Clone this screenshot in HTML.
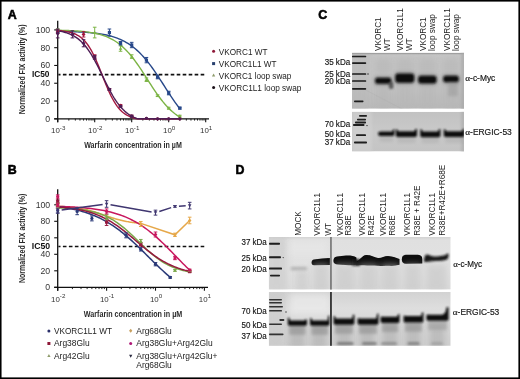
<!DOCTYPE html><html><head><meta charset="utf-8"><style>html,body{margin:0;padding:0;background:#fff;}svg{display:block;will-change:transform;filter:blur(0.3px);}text{font-family:"Liberation Sans", sans-serif;}</style></head><body>
<svg width="520" height="379" viewBox="0 0 520 379">
<defs>
<filter id="b1" x="-30%" y="-80%" width="160%" height="260%"><feGaussianBlur stdDeviation="0.9"/></filter>
<filter id="b2" x="-30%" y="-80%" width="160%" height="260%"><feGaussianBlur stdDeviation="1.6"/></filter>
<filter id="b3" x="-30%" y="-30%" width="160%" height="160%"><feGaussianBlur stdDeviation="3"/></filter>
<filter id="b05"><feGaussianBlur stdDeviation="0.5"/></filter>
<filter id="b07" x="-30%" y="-80%" width="160%" height="260%"><feGaussianBlur stdDeviation="0.7"/></filter>
</defs>
<rect x="0" y="0" width="520" height="379" fill="#fff"/>
<text x="7.80" y="18.60" font-size="12.40" text-anchor="start" font-weight="bold" fill="#000" stroke="#000" stroke-width="0.55">A</text>
<text x="7.80" y="174.00" font-size="12.40" text-anchor="start" font-weight="bold" fill="#000" stroke="#000" stroke-width="0.55">B</text>
<text x="318.20" y="19.30" font-size="12.40" text-anchor="start" font-weight="bold" fill="#000" stroke="#000" stroke-width="0.55">C</text>
<text x="235.50" y="173.90" font-size="12.40" text-anchor="start" font-weight="bold" fill="#000" stroke="#000" stroke-width="0.55">D</text>
<path d="M57.7,20.8 V122.2" stroke="#111" stroke-width="1.3"/>
<path d="M54.2,118.8 H209.0" stroke="#111" stroke-width="1.3"/>
<path d="M54.2,118.80 H57.7" stroke="#111" stroke-width="1.1"/>
<text x="50.20" y="121.80" font-size="8.70" text-anchor="end" font-weight="normal" fill="#333" >0</text>
<path d="M54.2,101.02 H57.7" stroke="#111" stroke-width="1.1"/>
<text x="50.20" y="104.02" font-size="8.70" text-anchor="end" font-weight="normal" fill="#333" >20</text>
<path d="M54.2,83.24 H57.7" stroke="#111" stroke-width="1.1"/>
<text x="50.20" y="86.24" font-size="8.70" text-anchor="end" font-weight="normal" fill="#333" >40</text>
<path d="M54.2,65.46 H57.7" stroke="#111" stroke-width="1.1"/>
<text x="50.20" y="68.46" font-size="8.70" text-anchor="end" font-weight="normal" fill="#333" >60</text>
<path d="M54.2,47.68 H57.7" stroke="#111" stroke-width="1.1"/>
<text x="50.20" y="50.68" font-size="8.70" text-anchor="end" font-weight="normal" fill="#333" >80</text>
<path d="M54.2,29.90 H57.7" stroke="#111" stroke-width="1.1"/>
<text x="50.20" y="32.90" font-size="8.70" text-anchor="end" font-weight="normal" fill="#333" >100</text>
<path d="M57.70,118.8 V122.2" stroke="#111" stroke-width="1.1"/>
<path d="M68.84,118.8 V120.6" stroke="#111" stroke-width="0.9"/>
<path d="M75.35,118.8 V120.6" stroke="#111" stroke-width="0.9"/>
<path d="M79.98,118.8 V120.6" stroke="#111" stroke-width="0.9"/>
<path d="M83.56,118.8 V120.6" stroke="#111" stroke-width="0.9"/>
<path d="M86.49,118.8 V120.6" stroke="#111" stroke-width="0.9"/>
<path d="M88.97,118.8 V120.6" stroke="#111" stroke-width="0.9"/>
<path d="M91.11,118.8 V120.6" stroke="#111" stroke-width="0.9"/>
<path d="M93.01,118.8 V120.6" stroke="#111" stroke-width="0.9"/>
<text x="58.20" y="133.1" font-size="7.9" fill="#333" text-anchor="middle">10<tspan dy="-3.2" font-size="6.2">-3</tspan></text>
<path d="M94.70,118.8 V122.2" stroke="#111" stroke-width="1.1"/>
<path d="M105.84,118.8 V120.6" stroke="#111" stroke-width="0.9"/>
<path d="M112.35,118.8 V120.6" stroke="#111" stroke-width="0.9"/>
<path d="M116.98,118.8 V120.6" stroke="#111" stroke-width="0.9"/>
<path d="M120.56,118.8 V120.6" stroke="#111" stroke-width="0.9"/>
<path d="M123.49,118.8 V120.6" stroke="#111" stroke-width="0.9"/>
<path d="M125.97,118.8 V120.6" stroke="#111" stroke-width="0.9"/>
<path d="M128.11,118.8 V120.6" stroke="#111" stroke-width="0.9"/>
<path d="M130.01,118.8 V120.6" stroke="#111" stroke-width="0.9"/>
<text x="95.20" y="133.1" font-size="7.9" fill="#333" text-anchor="middle">10<tspan dy="-3.2" font-size="6.2">-2</tspan></text>
<path d="M131.70,118.8 V122.2" stroke="#111" stroke-width="1.1"/>
<path d="M142.84,118.8 V120.6" stroke="#111" stroke-width="0.9"/>
<path d="M149.35,118.8 V120.6" stroke="#111" stroke-width="0.9"/>
<path d="M153.98,118.8 V120.6" stroke="#111" stroke-width="0.9"/>
<path d="M157.56,118.8 V120.6" stroke="#111" stroke-width="0.9"/>
<path d="M160.49,118.8 V120.6" stroke="#111" stroke-width="0.9"/>
<path d="M162.97,118.8 V120.6" stroke="#111" stroke-width="0.9"/>
<path d="M165.11,118.8 V120.6" stroke="#111" stroke-width="0.9"/>
<path d="M167.01,118.8 V120.6" stroke="#111" stroke-width="0.9"/>
<text x="132.20" y="133.1" font-size="7.9" fill="#333" text-anchor="middle">10<tspan dy="-3.2" font-size="6.2">-1</tspan></text>
<path d="M168.70,118.8 V122.2" stroke="#111" stroke-width="1.1"/>
<path d="M179.84,118.8 V120.6" stroke="#111" stroke-width="0.9"/>
<path d="M186.35,118.8 V120.6" stroke="#111" stroke-width="0.9"/>
<path d="M190.98,118.8 V120.6" stroke="#111" stroke-width="0.9"/>
<path d="M194.56,118.8 V120.6" stroke="#111" stroke-width="0.9"/>
<path d="M197.49,118.8 V120.6" stroke="#111" stroke-width="0.9"/>
<path d="M199.97,118.8 V120.6" stroke="#111" stroke-width="0.9"/>
<path d="M202.11,118.8 V120.6" stroke="#111" stroke-width="0.9"/>
<path d="M204.01,118.8 V120.6" stroke="#111" stroke-width="0.9"/>
<text x="169.20" y="133.1" font-size="7.9" fill="#333" text-anchor="middle">10<tspan dy="-3.2" font-size="6.2">0</tspan></text>
<path d="M205.70,118.8 V122.2" stroke="#111" stroke-width="1.1"/>
<text x="206.20" y="133.1" font-size="7.9" fill="#333" text-anchor="middle">10<tspan dy="-3.2" font-size="6.2">1</tspan></text>
<path d="M58.4,74.6 H204.4" stroke="#111" stroke-width="1.6" stroke-dasharray="3.6,2.39" stroke-dashoffset="1.5"/>
<text x="31.90" y="76.80" font-size="8.30" text-anchor="start" font-weight="bold" fill="#111" textLength="17.6" lengthAdjust="spacingAndGlyphs" >IC50</text>
<text x="84.20" y="148.30" font-size="9.50" text-anchor="start" font-weight="bold" fill="#2a2a2a" textLength="97.6" lengthAdjust="spacingAndGlyphs" >Warfarin concentration in &#181;M</text>
<text transform="translate(25.40,114.20) rotate(-90)" x="0" y="0" font-size="9.40" font-weight="bold" fill="#2a2a2a" text-anchor="start" textLength="89.8" lengthAdjust="spacingAndGlyphs">Normalized FIX activity (%)</text>
<path d="M57.70,31.32 L59.23,31.34 L60.75,31.37 L62.28,31.39 L63.81,31.42 L65.33,31.46 L66.86,31.49 L68.39,31.53 L69.91,31.58 L71.44,31.62 L72.97,31.67 L74.49,31.73 L76.02,31.79 L77.55,31.85 L79.07,31.93 L80.60,32.00 L82.13,32.09 L83.65,32.18 L85.18,32.28 L86.71,32.39 L88.23,32.51 L89.76,32.64 L91.29,32.78 L92.81,32.93 L94.34,33.10 L95.87,33.28 L97.39,33.48 L98.92,33.69 L100.45,33.92 L101.98,34.17 L103.50,34.44 L105.03,34.74 L106.56,35.06 L108.08,35.41 L109.61,35.78 L111.14,36.19 L112.66,36.63 L114.19,37.11 L115.72,37.62 L117.24,38.18 L118.77,38.78 L120.30,39.42 L121.82,40.11 L123.35,40.86 L124.88,41.66 L126.40,42.52 L127.93,43.43 L129.46,44.42 L130.98,45.47 L132.51,46.58 L134.04,47.77 L135.56,49.04 L137.09,50.38 L138.62,51.79 L140.14,53.29 L141.67,54.86 L143.20,56.52 L144.72,58.25 L146.25,60.06 L147.78,61.94 L149.30,63.90 L150.83,65.93 L152.36,68.02 L153.88,70.18 L155.41,72.38 L156.94,74.64 L158.46,76.94 L159.99,79.27 L161.52,81.63 L163.04,84.00 L164.57,86.38 L166.10,88.76 L167.62,91.13 L169.15,93.49 L170.68,95.81 L172.20,98.10 L173.73,100.35 L175.26,102.55 L176.78,104.70 L178.31,106.78 L179.84,108.79" stroke="#27488a" stroke-width="1.4" fill="none"/>
<path d="M57.70,30.22 L59.23,30.25 L60.75,30.29 L62.28,30.33 L63.81,30.37 L65.33,30.42 L66.86,30.47 L68.39,30.53 L69.91,30.59 L71.44,30.66 L72.97,30.74 L74.49,30.83 L76.02,30.92 L77.55,31.02 L79.07,31.14 L80.60,31.26 L82.13,31.40 L83.65,31.55 L85.18,31.72 L86.71,31.90 L88.23,32.10 L89.76,32.33 L91.29,32.57 L92.81,32.83 L94.34,33.13 L95.87,33.45 L97.39,33.80 L98.92,34.18 L100.45,34.60 L101.98,35.06 L103.50,35.56 L105.03,36.10 L106.56,36.69 L108.08,37.34 L109.61,38.04 L111.14,38.80 L112.66,39.62 L114.19,40.52 L115.72,41.48 L117.24,42.51 L118.77,43.63 L120.30,44.83 L121.82,46.11 L123.35,47.47 L124.88,48.93 L126.40,50.47 L127.93,52.11 L129.46,53.83 L130.98,55.65 L132.51,57.55 L134.04,59.53 L135.56,61.59 L137.09,63.72 L138.62,65.92 L140.14,68.17 L141.67,70.48 L143.20,72.82 L144.72,75.19 L146.25,77.58 L147.78,79.97 L149.30,82.36 L150.83,84.73 L152.36,87.08 L153.88,89.38 L155.41,91.64 L156.94,93.84 L158.46,95.98 L159.99,98.04 L161.52,100.03 L163.04,101.93 L164.57,103.75 L166.10,105.48 L167.62,107.12 L169.15,108.67 L170.68,110.13 L172.20,111.50 L173.73,112.79 L175.26,113.99 L176.78,115.11 L178.31,116.15 L179.84,117.11" stroke="#7cb445" stroke-width="1.4" fill="none"/>
<path d="M57.70,30.51 L59.23,30.63 L60.75,30.76 L62.28,30.92 L63.81,31.11 L65.33,31.33 L66.86,31.59 L68.39,31.90 L69.91,32.26 L71.44,32.69 L72.97,33.19 L74.49,33.77 L76.02,34.46 L77.55,35.26 L79.07,36.19 L80.60,37.27 L82.13,38.51 L83.65,39.94 L85.18,41.57 L86.71,43.42 L88.23,45.51 L89.76,47.85 L91.29,50.44 L92.81,53.28 L94.34,56.37 L95.87,59.68 L97.39,63.20 L98.92,66.88 L100.45,70.67 L101.98,74.53 L103.50,78.41 L105.03,82.23 L106.56,85.96 L108.08,89.54 L109.61,92.93 L111.14,96.10 L112.66,99.04 L114.19,101.72 L115.72,104.15 L117.24,106.32 L118.77,108.26 L120.30,109.97 L121.82,111.47 L123.35,112.78 L124.88,113.91 L126.40,114.90 L127.93,115.74 L129.46,116.47 L130.98,117.09 L132.51,117.62 L134.04,118.07 L135.56,118.46 L137.09,118.78 L138.62,118.80 L140.14,118.80 L141.67,118.80 L143.20,118.80 L144.72,118.80 L146.25,118.80 L147.78,118.80 L149.30,118.80 L150.83,118.80 L152.36,118.80 L153.88,118.80 L155.41,118.80 L156.94,118.80 L158.46,118.80 L159.99,118.80 L161.52,118.80 L163.04,118.80 L164.57,118.80 L166.10,118.80 L167.62,118.80 L169.15,118.80 L170.68,118.80 L172.20,118.80 L173.73,118.80 L175.26,118.80 L176.78,118.80 L178.31,118.80 L179.84,118.80" stroke="#a3183f" stroke-width="1.4" fill="none"/>
<path d="M57.70,30.81 L59.23,31.06 L60.75,31.35 L62.28,31.67 L63.81,32.04 L65.33,32.46 L66.86,32.94 L68.39,33.47 L69.91,34.08 L71.44,34.76 L72.97,35.53 L74.49,36.39 L76.02,37.35 L77.55,38.43 L79.07,39.62 L80.60,40.95 L82.13,42.42 L83.65,44.03 L85.18,45.80 L86.71,47.73 L88.23,49.82 L89.76,52.07 L91.29,54.48 L92.81,57.04 L94.34,59.74 L95.87,62.57 L97.39,65.51 L98.92,68.54 L100.45,71.63 L101.98,74.76 L103.50,77.91 L105.03,81.03 L106.56,84.11 L108.08,87.12 L109.61,90.04 L111.14,92.84 L112.66,95.51 L114.19,98.03 L115.72,100.40 L117.24,102.61 L118.77,104.66 L120.30,106.55 L121.82,108.28 L123.35,109.86 L124.88,111.29 L126.40,112.58 L127.93,113.75 L129.46,114.80 L130.98,115.73 L132.51,116.57 L134.04,117.32 L135.56,117.98 L137.09,118.57 L138.62,118.80 L140.14,118.80 L141.67,118.80 L143.20,118.80 L144.72,118.80 L146.25,118.80 L147.78,118.80 L149.30,118.80 L150.83,118.80 L152.36,118.80 L153.88,118.80 L155.41,118.80 L156.94,118.80 L158.46,118.80 L159.99,118.80 L161.52,118.80 L163.04,118.80 L164.57,118.80 L166.10,118.80 L167.62,118.80 L169.15,118.80 L170.68,118.80 L172.20,118.80 L173.73,118.80 L175.26,118.80 L176.78,118.80 L178.31,118.80 L179.84,118.80" stroke="#4e1d55" stroke-width="1.4" fill="none"/>
<path d="M57.70,29.01 V30.79 M55.90,29.01 H59.50 M55.90,30.79 H59.50" stroke="#7cb445" stroke-width="1.0" fill="none"/>
<path d="M57.70,27.98 L59.46,31.18 L55.94,31.18 Z" fill="#7cb445"/>
<path d="M94.70,27.23 V37.90 M92.90,27.23 H96.50 M92.90,37.90 H96.50" stroke="#7cb445" stroke-width="1.0" fill="none"/>
<path d="M94.70,30.65 L96.46,33.85 L92.94,33.85 Z" fill="#7cb445"/>
<path d="M120.56,45.90 V51.24 M118.76,45.90 H122.36 M118.76,51.24 H122.36" stroke="#7cb445" stroke-width="1.0" fill="none"/>
<path d="M120.56,46.65 L122.32,49.85 L118.80,49.85 Z" fill="#7cb445"/>
<path d="M131.70,54.79 V58.35 M129.90,54.79 H133.50 M129.90,58.35 H133.50" stroke="#7cb445" stroke-width="1.0" fill="none"/>
<path d="M131.70,54.65 L133.46,57.85 L129.94,57.85 Z" fill="#7cb445"/>
<path d="M146.42,77.91 V81.46 M144.62,77.91 H148.22 M144.62,81.46 H148.22" stroke="#7cb445" stroke-width="1.0" fill="none"/>
<path d="M146.42,77.76 L148.18,80.96 L144.66,80.96 Z" fill="#7cb445"/>
<path d="M157.56,94.80 V96.57 M155.76,94.80 H159.36 M155.76,96.57 H159.36" stroke="#7cb445" stroke-width="1.0" fill="none"/>
<path d="M157.56,93.77 L159.32,96.97 L155.80,96.97 Z" fill="#7cb445"/>
<path d="M168.70,107.24 V109.02 M166.90,107.24 H170.50 M166.90,109.02 H170.50" stroke="#7cb445" stroke-width="1.0" fill="none"/>
<path d="M168.70,106.21 L170.46,109.41 L166.94,109.41 Z" fill="#7cb445"/>
<path d="M179.84,115.24 V117.02 M178.04,115.24 H181.64 M178.04,117.02 H181.64" stroke="#7cb445" stroke-width="1.0" fill="none"/>
<path d="M179.84,114.21 L181.60,117.41 L178.08,117.41 Z" fill="#7cb445"/>
<path d="M57.70,30.79 V32.57 M55.90,30.79 H59.50 M55.90,32.57 H59.50" stroke="#27488a" stroke-width="1.0" fill="none"/>
<rect x="56.10" y="30.08" width="3.20" height="3.20" fill="#27488a"/>
<path d="M109.42,29.01 V36.12 M107.62,29.01 H111.22 M107.62,36.12 H111.22" stroke="#27488a" stroke-width="1.0" fill="none"/>
<rect x="107.82" y="30.97" width="3.20" height="3.20" fill="#27488a"/>
<path d="M120.56,41.46 V45.01 M118.76,41.46 H122.36 M118.76,45.01 H122.36" stroke="#27488a" stroke-width="1.0" fill="none"/>
<rect x="118.96" y="41.63" width="3.20" height="3.20" fill="#27488a"/>
<path d="M131.70,42.35 V47.68 M129.90,42.35 H133.50 M129.90,47.68 H133.50" stroke="#27488a" stroke-width="1.0" fill="none"/>
<rect x="130.10" y="43.41" width="3.20" height="3.20" fill="#27488a"/>
<path d="M146.42,57.46 V62.79 M144.62,57.46 H148.22 M144.62,62.79 H148.22" stroke="#27488a" stroke-width="1.0" fill="none"/>
<rect x="144.82" y="58.53" width="3.20" height="3.20" fill="#27488a"/>
<path d="M157.56,75.24 V78.80 M155.76,75.24 H159.36 M155.76,78.80 H159.36" stroke="#27488a" stroke-width="1.0" fill="none"/>
<rect x="155.96" y="75.42" width="3.20" height="3.20" fill="#27488a"/>
<path d="M168.70,91.24 V94.80 M166.90,91.24 H170.50 M166.90,94.80 H170.50" stroke="#27488a" stroke-width="1.0" fill="none"/>
<rect x="167.10" y="91.42" width="3.20" height="3.20" fill="#27488a"/>
<path d="M179.84,107.24 V109.02 M178.04,107.24 H181.64 M178.04,109.02 H181.64" stroke="#27488a" stroke-width="1.0" fill="none"/>
<rect x="178.24" y="106.53" width="3.20" height="3.20" fill="#27488a"/>
<path d="M57.70,29.90 V33.46 M55.90,29.90 H59.50 M55.90,33.46 H59.50" stroke="#a3183f" stroke-width="1.0" fill="none"/>
<circle cx="57.70" cy="31.68" r="1.60" fill="#a3183f"/>
<path d="M83.56,31.68 V37.01 M81.76,31.68 H85.36 M81.76,37.01 H85.36" stroke="#a3183f" stroke-width="1.0" fill="none"/>
<circle cx="83.56" cy="34.34" r="1.60" fill="#a3183f"/>
<path d="M94.70,54.79 V58.35 M92.90,54.79 H96.50 M92.90,58.35 H96.50" stroke="#a3183f" stroke-width="1.0" fill="none"/>
<circle cx="94.70" cy="56.57" r="1.60" fill="#a3183f"/>
<path d="M109.42,88.57 V90.35 M107.62,88.57 H111.22 M107.62,90.35 H111.22" stroke="#a3183f" stroke-width="1.0" fill="none"/>
<circle cx="109.42" cy="89.46" r="1.60" fill="#a3183f"/>
<path d="M120.56,104.58 V106.35 M118.76,104.58 H122.36 M118.76,106.35 H122.36" stroke="#a3183f" stroke-width="1.0" fill="none"/>
<circle cx="120.56" cy="105.47" r="1.60" fill="#a3183f"/>
<path d="M131.70,115.24 V117.02 M129.90,115.24 H133.50 M129.90,117.02 H133.50" stroke="#a3183f" stroke-width="1.0" fill="none"/>
<circle cx="131.70" cy="116.13" r="1.60" fill="#a3183f"/>
<circle cx="146.42" cy="118.36" r="1.60" fill="#a3183f"/>
<circle cx="157.56" cy="118.80" r="1.60" fill="#a3183f"/>
<circle cx="168.70" cy="118.80" r="1.60" fill="#a3183f"/>
<circle cx="179.84" cy="118.80" r="1.60" fill="#a3183f"/>
<path d="M57.70,29.01 V37.90 M55.90,29.01 H59.50 M55.90,37.90 H59.50" stroke="#4e1d55" stroke-width="1.0" fill="none"/>
<circle cx="57.70" cy="33.46" r="1.60" fill="#4e1d55"/>
<path d="M72.42,30.79 V37.90 M70.62,30.79 H74.22 M70.62,37.90 H74.22" stroke="#4e1d55" stroke-width="1.0" fill="none"/>
<circle cx="72.42" cy="34.34" r="1.60" fill="#4e1d55"/>
<path d="M83.56,39.68 V46.79 M81.76,39.68 H85.36 M81.76,46.79 H85.36" stroke="#4e1d55" stroke-width="1.0" fill="none"/>
<circle cx="83.56" cy="43.23" r="1.60" fill="#4e1d55"/>
<path d="M94.70,55.68 V59.24 M92.90,55.68 H96.50 M92.90,59.24 H96.50" stroke="#4e1d55" stroke-width="1.0" fill="none"/>
<circle cx="94.70" cy="57.46" r="1.60" fill="#4e1d55"/>
<path d="M109.42,88.57 V90.35 M107.62,88.57 H111.22 M107.62,90.35 H111.22" stroke="#4e1d55" stroke-width="1.0" fill="none"/>
<circle cx="109.42" cy="89.46" r="1.60" fill="#4e1d55"/>
<path d="M120.56,105.47 V107.24 M118.76,105.47 H122.36 M118.76,107.24 H122.36" stroke="#4e1d55" stroke-width="1.0" fill="none"/>
<circle cx="120.56" cy="106.35" r="1.60" fill="#4e1d55"/>
<path d="M131.70,115.24 V117.02 M129.90,115.24 H133.50 M129.90,117.02 H133.50" stroke="#4e1d55" stroke-width="1.0" fill="none"/>
<circle cx="131.70" cy="116.13" r="1.60" fill="#4e1d55"/>
<circle cx="146.42" cy="118.36" r="1.60" fill="#4e1d55"/>
<circle cx="157.56" cy="118.80" r="1.60" fill="#4e1d55"/>
<circle cx="168.70" cy="118.80" r="1.60" fill="#4e1d55"/>
<circle cx="179.84" cy="118.80" r="1.60" fill="#4e1d55"/>
<circle cx="213.60" cy="51.20" r="1.50" fill="#8e1838"/>
<text x="218.80" y="54.50" font-size="8.80" text-anchor="start" font-weight="normal" fill="#222" textLength="48.7" lengthAdjust="spacingAndGlyphs" >VKORC1 WT</text>
<rect x="212.10" y="62.10" width="3.00" height="3.00" fill="#27406e"/>
<text x="218.80" y="66.90" font-size="8.80" text-anchor="start" font-weight="normal" fill="#222" textLength="57.7" lengthAdjust="spacingAndGlyphs" >VKORC1L1 WT</text>
<path d="M213.60,73.60 L215.25,76.60 L211.95,76.60 Z" fill="#8f9c6c"/>
<text x="218.80" y="78.70" font-size="8.80" text-anchor="start" font-weight="normal" fill="#222" textLength="72.6" lengthAdjust="spacingAndGlyphs" >VKORC1 loop swap</text>
<circle cx="213.60" cy="87.40" r="1.50" fill="#1a1018"/>
<text x="218.80" y="90.70" font-size="8.80" text-anchor="start" font-weight="normal" fill="#222" textLength="82.6" lengthAdjust="spacingAndGlyphs" >VKORC1L1 loop swap</text>
<path d="M57.7,189.2 V290.7" stroke="#111" stroke-width="1.3"/>
<path d="M54.2,287.4 H208.0" stroke="#111" stroke-width="1.3"/>
<path d="M54.2,287.30 H57.7" stroke="#111" stroke-width="1.1"/>
<text x="50.20" y="290.30" font-size="8.70" text-anchor="end" font-weight="normal" fill="#333" >0</text>
<path d="M54.2,270.80 H57.7" stroke="#111" stroke-width="1.1"/>
<text x="50.20" y="273.80" font-size="8.70" text-anchor="end" font-weight="normal" fill="#333" >20</text>
<path d="M54.2,254.30 H57.7" stroke="#111" stroke-width="1.1"/>
<text x="50.20" y="257.30" font-size="8.70" text-anchor="end" font-weight="normal" fill="#333" >40</text>
<path d="M54.2,237.80 H57.7" stroke="#111" stroke-width="1.1"/>
<text x="50.20" y="240.80" font-size="8.70" text-anchor="end" font-weight="normal" fill="#333" >60</text>
<path d="M54.2,221.30 H57.7" stroke="#111" stroke-width="1.1"/>
<text x="50.20" y="224.30" font-size="8.70" text-anchor="end" font-weight="normal" fill="#333" >80</text>
<path d="M54.2,204.80 H57.7" stroke="#111" stroke-width="1.1"/>
<text x="50.20" y="207.80" font-size="8.70" text-anchor="end" font-weight="normal" fill="#333" >100</text>
<path d="M57.70,287.3 V290.7" stroke="#111" stroke-width="1.1"/>
<path d="M72.42,287.3 V289.1" stroke="#111" stroke-width="0.9"/>
<path d="M81.03,287.3 V289.1" stroke="#111" stroke-width="0.9"/>
<path d="M87.14,287.3 V289.1" stroke="#111" stroke-width="0.9"/>
<path d="M91.88,287.3 V289.1" stroke="#111" stroke-width="0.9"/>
<path d="M95.75,287.3 V289.1" stroke="#111" stroke-width="0.9"/>
<path d="M99.03,287.3 V289.1" stroke="#111" stroke-width="0.9"/>
<path d="M101.86,287.3 V289.1" stroke="#111" stroke-width="0.9"/>
<path d="M104.36,287.3 V289.1" stroke="#111" stroke-width="0.9"/>
<text x="58.20" y="301.6" font-size="7.9" fill="#333" text-anchor="middle">10<tspan dy="-3.2" font-size="6.2">-2</tspan></text>
<path d="M106.60,287.3 V290.7" stroke="#111" stroke-width="1.1"/>
<path d="M121.32,287.3 V289.1" stroke="#111" stroke-width="0.9"/>
<path d="M129.93,287.3 V289.1" stroke="#111" stroke-width="0.9"/>
<path d="M136.04,287.3 V289.1" stroke="#111" stroke-width="0.9"/>
<path d="M140.78,287.3 V289.1" stroke="#111" stroke-width="0.9"/>
<path d="M144.65,287.3 V289.1" stroke="#111" stroke-width="0.9"/>
<path d="M147.93,287.3 V289.1" stroke="#111" stroke-width="0.9"/>
<path d="M150.76,287.3 V289.1" stroke="#111" stroke-width="0.9"/>
<path d="M153.26,287.3 V289.1" stroke="#111" stroke-width="0.9"/>
<text x="107.10" y="301.6" font-size="7.9" fill="#333" text-anchor="middle">10<tspan dy="-3.2" font-size="6.2">-1</tspan></text>
<path d="M155.50,287.3 V290.7" stroke="#111" stroke-width="1.1"/>
<path d="M170.22,287.3 V289.1" stroke="#111" stroke-width="0.9"/>
<path d="M178.83,287.3 V289.1" stroke="#111" stroke-width="0.9"/>
<path d="M184.94,287.3 V289.1" stroke="#111" stroke-width="0.9"/>
<path d="M189.68,287.3 V289.1" stroke="#111" stroke-width="0.9"/>
<path d="M193.55,287.3 V289.1" stroke="#111" stroke-width="0.9"/>
<path d="M196.83,287.3 V289.1" stroke="#111" stroke-width="0.9"/>
<path d="M199.66,287.3 V289.1" stroke="#111" stroke-width="0.9"/>
<path d="M202.16,287.3 V289.1" stroke="#111" stroke-width="0.9"/>
<text x="156.00" y="301.6" font-size="7.9" fill="#333" text-anchor="middle">10<tspan dy="-3.2" font-size="6.2">0</tspan></text>
<path d="M204.40,287.3 V290.7" stroke="#111" stroke-width="1.1"/>
<text x="204.90" y="301.6" font-size="7.9" fill="#333" text-anchor="middle">10<tspan dy="-3.2" font-size="6.2">1</tspan></text>
<path d="M58.4,246.5 H204.4" stroke="#111" stroke-width="1.6" stroke-dasharray="3.6,2.39" stroke-dashoffset="1.5"/>
<text x="31.80" y="248.60" font-size="8.30" text-anchor="start" font-weight="bold" fill="#111" textLength="18.4" lengthAdjust="spacingAndGlyphs" >IC50</text>
<text x="83.80" y="316.50" font-size="9.50" text-anchor="start" font-weight="bold" fill="#2a2a2a" textLength="98.5" lengthAdjust="spacingAndGlyphs" >Warfarin concentration in &#181;M</text>
<text transform="translate(24.80,283.00) rotate(-90)" x="0" y="0" font-size="9.40" font-weight="bold" fill="#2a2a2a" text-anchor="start" textLength="89.3" lengthAdjust="spacingAndGlyphs">Normalized FIX activity (%)</text>
<path d="M57.70,206.32 L58.74,206.36 L59.78,206.41 L60.82,206.47 L61.85,206.52 L62.89,206.58 L63.93,206.65 L64.97,206.72 L66.01,206.79 L67.05,206.88 L68.08,206.96 L69.12,207.05 L70.16,207.15 L71.20,207.25 L72.24,207.37 L73.28,207.48 L74.32,207.61 L75.35,207.74 L76.39,207.89 L77.43,208.04 L78.47,208.19 L79.51,208.36 L80.55,208.54 L81.59,208.73 L82.62,208.93 L83.66,209.13 L84.70,209.35 L85.74,209.58 L86.78,209.82 L87.82,210.07 L88.85,210.33 L89.89,210.60 L90.93,210.88 L91.97,211.16 L93.01,211.46 L94.05,211.77 L95.09,212.09 L96.12,212.41 L97.16,212.74 L98.20,213.08 L99.24,213.42 L100.28,213.77 L101.32,214.12 L102.36,214.48 L103.39,214.84 L104.43,215.19 L105.47,215.55 L106.51,215.91 L107.55,216.26 L108.59,216.61 L109.62,216.96 L110.66,217.30 L111.70,217.64 L112.74,217.97 L113.78,218.29 L114.82,218.61 L115.86,218.91 L116.89,219.21 L117.93,219.50 L118.97,219.77 L120.01,220.04 L121.05,220.30 L122.09,220.54 L123.13,220.78 L124.16,221.01 L125.20,221.22 L126.24,221.43 L127.28,221.62 L128.32,221.81 L129.36,221.98 L130.39,222.15 L131.43,222.31 L132.47,222.45 L133.51,222.59 L134.55,222.73 L135.59,222.85 L136.63,222.97 L137.66,223.08 L138.70,223.18 L139.74,223.28 L140.78,223.37" stroke="#e6a84a" stroke-width="1.5" fill="none"/>
<path d="M140.78,223.37 L174.96,234.83 L189.68,220.48" stroke="#e6a84a" stroke-width="1.5" fill="none"/>
<path d="M57.70,207.03 L59.35,207.09 L61.00,207.16 L62.65,207.24 L64.30,207.32 L65.95,207.41 L67.60,207.51 L69.25,207.62 L70.90,207.74 L72.55,207.87 L74.20,208.02 L75.85,208.18 L77.50,208.35 L79.15,208.54 L80.80,208.75 L82.45,208.98 L84.10,209.23 L85.75,209.50 L87.40,209.79 L89.05,210.11 L90.69,210.47 L92.34,210.85 L93.99,211.26 L95.64,211.71 L97.29,212.20 L98.94,212.73 L100.59,213.30 L102.24,213.91 L103.89,214.58 L105.54,215.29 L107.19,216.06 L108.84,216.88 L110.49,217.75 L112.14,218.68 L113.79,219.68 L115.44,220.73 L117.09,221.84 L118.74,223.01 L120.39,224.24 L122.04,225.52 L123.69,226.86 L125.34,228.25 L126.99,229.70 L128.64,231.18 L130.29,232.70 L131.94,234.26 L133.59,235.84 L135.24,237.45 L136.89,239.07 L138.54,240.69 L140.19,242.31 L141.84,243.93 L143.49,245.52 L145.14,247.10 L146.79,248.64 L148.44,250.15 L150.09,251.62 L151.74,253.05 L153.39,254.42 L155.03,255.74 L156.68,257.01 L158.33,258.21 L159.98,259.36 L161.63,260.45 L163.28,261.48 L164.93,262.45 L166.58,263.36 L168.23,264.21 L169.88,265.01 L171.53,265.76 L173.18,266.45 L174.83,267.10 L176.48,267.70 L178.13,268.25 L179.78,268.77 L181.43,269.24 L183.08,269.68 L184.73,270.08 L186.38,270.45 L188.03,270.79 L189.68,271.10" stroke="#7aa84a" stroke-width="1.5" fill="none" transform="translate(0,0.8)"/>
<path d="M57.70,206.33 L59.35,206.39 L61.00,206.45 L62.65,206.51 L64.30,206.58 L65.95,206.65 L67.60,206.72 L69.25,206.81 L70.90,206.89 L72.55,206.99 L74.20,207.09 L75.85,207.19 L77.50,207.31 L79.15,207.43 L80.80,207.56 L82.45,207.70 L84.10,207.85 L85.75,208.00 L87.40,208.17 L89.05,208.35 L90.69,208.54 L92.34,208.75 L93.99,208.96 L95.64,209.19 L97.29,209.44 L98.94,209.70 L100.59,209.98 L102.24,210.28 L103.89,210.59 L105.54,210.93 L107.19,211.29 L108.84,211.66 L110.49,212.07 L112.14,212.49 L113.79,212.94 L115.44,213.42 L117.09,213.93 L118.74,214.47 L120.39,215.03 L122.04,215.63 L123.69,216.26 L125.34,216.93 L126.99,217.63 L128.64,218.38 L130.29,219.15 L131.94,219.97 L133.59,220.83 L135.24,221.73 L136.89,222.67 L138.54,223.66 L140.19,224.69 L141.84,225.76 L143.49,226.88 L145.14,228.04 L146.79,229.24 L148.44,230.49 L150.09,231.79 L151.74,233.12 L153.39,234.50 L155.03,235.92 L156.68,237.38 L158.33,238.87 L159.98,240.40 L161.63,241.96 L163.28,243.54 L164.93,245.16 L166.58,246.80 L168.23,248.46 L169.88,250.13 L171.53,251.82 L173.18,253.52 L174.83,255.22 L176.48,256.92 L178.13,258.62 L179.78,260.32 L181.43,262.00 L183.08,263.67 L184.73,265.32 L186.38,266.96 L188.03,268.56 L189.68,270.14" stroke="#c8175e" stroke-width="1.5" fill="none"/>
<path d="M57.70,206.57 L59.11,206.75 L60.51,206.95 L61.92,207.15 L63.33,207.36 L64.73,207.58 L66.14,207.82 L67.55,208.06 L68.95,208.32 L70.36,208.59 L71.77,208.87 L73.17,209.17 L74.58,209.48 L75.98,209.80 L77.39,210.14 L78.80,210.50 L80.20,210.87 L81.61,211.27 L83.02,211.67 L84.42,212.10 L85.83,212.55 L87.24,213.01 L88.64,213.50 L90.05,214.00 L91.46,214.53 L92.86,215.08 L94.27,215.66 L95.68,216.26 L97.08,216.88 L98.49,217.52 L99.90,218.19 L101.30,218.89 L102.71,219.62 L104.11,220.37 L105.52,221.14 L106.93,221.95 L108.33,222.78 L109.74,223.64 L111.15,224.53 L112.55,225.45 L113.96,226.40 L115.37,227.37 L116.77,228.37 L118.18,229.40 L119.59,230.46 L120.99,231.55 L122.40,232.66 L123.81,233.80 L125.21,234.96 L126.62,236.15 L128.03,237.36 L129.43,238.60 L130.84,239.86 L132.24,241.13 L133.65,242.43 L135.06,243.74 L136.46,245.08 L137.87,246.42 L139.28,247.78 L140.68,249.15 L142.09,250.53 L143.50,251.91 L144.90,253.30 L146.31,254.70 L147.72,256.10 L149.12,257.50 L150.53,258.89 L151.94,260.28 L153.34,261.67 L154.75,263.05 L156.16,264.41 L157.56,265.77 L158.97,267.11 L160.37,268.44 L161.78,269.76 L163.19,271.05 L164.59,272.33 L166.00,273.58 L167.41,274.82 L168.81,276.03 L170.22,277.21" stroke="#2b3a78" stroke-width="1.5" fill="none"/>
<path d="M57.70,206.91 L59.35,207.04 L61.00,207.18 L62.65,207.34 L64.30,207.50 L65.95,207.67 L67.60,207.86 L69.25,208.07 L70.90,208.29 L72.55,208.52 L74.20,208.77 L75.85,209.05 L77.50,209.34 L79.15,209.65 L80.80,209.99 L82.45,210.34 L84.10,210.73 L85.75,211.14 L87.40,211.58 L89.05,212.05 L90.69,212.55 L92.34,213.08 L93.99,213.65 L95.64,214.25 L97.29,214.89 L98.94,215.57 L100.59,216.28 L102.24,217.04 L103.89,217.84 L105.54,218.68 L107.19,219.56 L108.84,220.48 L110.49,221.45 L112.14,222.46 L113.79,223.51 L115.44,224.61 L117.09,225.74 L118.74,226.91 L120.39,228.12 L122.04,229.37 L123.69,230.65 L125.34,231.95 L126.99,233.28 L128.64,234.64 L130.29,236.01 L131.94,237.40 L133.59,238.80 L135.24,240.21 L136.89,241.61 L138.54,243.02 L140.19,244.42 L141.84,245.80 L143.49,247.18 L145.14,248.53 L146.79,249.86 L148.44,251.16 L150.09,252.43 L151.74,253.68 L153.39,254.88 L155.03,256.05 L156.68,257.18 L158.33,258.27 L159.98,259.32 L161.63,260.32 L163.28,261.28 L164.93,262.20 L166.58,263.08 L168.23,263.92 L169.88,264.71 L171.53,265.46 L173.18,266.17 L174.83,266.84 L176.48,267.48 L178.13,268.08 L179.78,268.64 L181.43,269.17 L183.08,269.66 L184.73,270.13 L186.38,270.56 L188.03,270.97 L189.68,271.35" stroke="#96183e" stroke-width="1.5" fill="none"/>
<path d="M61.66,210.04 L102.64,204.51 M110.54,204.67 L151.56,211.94 M159.31,211.43 L171.15,207.66 M178.95,206.23 L185.69,205.85" stroke="#3f3670" stroke-width="1.5" fill="none"/>
<path d="M57.70,208.10 V213.05 M55.90,208.10 H59.50 M55.90,213.05 H59.50" stroke="#2b3a78" stroke-width="1.0" fill="none"/>
<circle cx="57.70" cy="210.58" r="1.60" fill="#2b3a78"/>
<path d="M77.16,208.10 V214.70 M75.36,208.10 H78.96 M75.36,214.70 H78.96" stroke="#2b3a78" stroke-width="1.0" fill="none"/>
<circle cx="77.16" cy="211.40" r="1.60" fill="#2b3a78"/>
<path d="M91.88,215.94 V220.89 M90.08,215.94 H93.68 M90.08,220.89 H93.68" stroke="#2b3a78" stroke-width="1.0" fill="none"/>
<circle cx="91.88" cy="218.41" r="1.60" fill="#2b3a78"/>
<path d="M126.06,232.85 V237.80 M124.26,232.85 H127.86 M124.26,237.80 H127.86" stroke="#2b3a78" stroke-width="1.0" fill="none"/>
<circle cx="126.06" cy="235.33" r="1.60" fill="#2b3a78"/>
<path d="M140.78,247.70 V251.00 M138.98,247.70 H142.58 M138.98,251.00 H142.58" stroke="#2b3a78" stroke-width="1.0" fill="none"/>
<circle cx="140.78" cy="249.35" r="1.60" fill="#2b3a78"/>
<path d="M155.50,262.55 V265.85 M153.70,262.55 H157.30 M153.70,265.85 H157.30" stroke="#2b3a78" stroke-width="1.0" fill="none"/>
<circle cx="155.50" cy="264.20" r="1.60" fill="#2b3a78"/>
<path d="M170.22,276.58 V278.23 M168.42,276.58 H172.02 M168.42,278.23 H172.02" stroke="#2b3a78" stroke-width="1.0" fill="none"/>
<circle cx="170.22" cy="277.40" r="1.60" fill="#2b3a78"/>
<path d="M57.70,199.85 V203.15 M55.90,199.85 H59.50 M55.90,203.15 H59.50" stroke="#96183e" stroke-width="1.0" fill="none"/>
<rect x="56.10" y="199.90" width="3.20" height="3.20" fill="#96183e"/>
<path d="M106.60,218.82 V225.43 M104.80,218.82 H108.40 M104.80,225.43 H108.40" stroke="#96183e" stroke-width="1.0" fill="none"/>
<rect x="105.00" y="220.53" width="3.20" height="3.20" fill="#96183e"/>
<path d="M140.78,242.75 V246.05 M138.98,242.75 H142.58 M138.98,246.05 H142.58" stroke="#96183e" stroke-width="1.0" fill="none"/>
<rect x="139.18" y="242.80" width="3.20" height="3.20" fill="#96183e"/>
<path d="M189.68,270.80 V272.45 M187.88,270.80 H191.48 M187.88,272.45 H191.48" stroke="#96183e" stroke-width="1.0" fill="none"/>
<rect x="188.08" y="270.02" width="3.20" height="3.20" fill="#96183e"/>
<path d="M57.70,203.15 V206.45 M55.90,203.15 H59.50 M55.90,206.45 H59.50" stroke="#7aa84a" stroke-width="1.0" fill="none"/>
<path d="M57.70,202.88 L59.46,206.08 L55.94,206.08 Z" fill="#7aa84a"/>
<path d="M106.60,214.70 V219.65 M104.80,214.70 H108.40 M104.80,219.65 H108.40" stroke="#7aa84a" stroke-width="1.0" fill="none"/>
<path d="M106.60,215.26 L108.36,218.46 L104.84,218.46 Z" fill="#7aa84a"/>
<path d="M140.78,239.45 V242.75 M138.98,239.45 H142.58 M138.98,242.75 H142.58" stroke="#7aa84a" stroke-width="1.0" fill="none"/>
<path d="M140.78,239.18 L142.54,242.38 L139.02,242.38 Z" fill="#7aa84a"/>
<path d="M174.96,269.56 V271.21 M173.16,269.56 H176.76 M173.16,271.21 H176.76" stroke="#7aa84a" stroke-width="1.0" fill="none"/>
<path d="M174.96,268.47 L176.72,271.67 L173.20,271.67 Z" fill="#7aa84a"/>
<path d="M189.68,269.98 V271.62 M187.88,269.98 H191.48 M187.88,271.62 H191.48" stroke="#7aa84a" stroke-width="1.0" fill="none"/>
<path d="M189.68,268.88 L191.44,272.08 L187.92,272.08 Z" fill="#7aa84a"/>
<path d="M57.70,204.80 V208.10 M55.90,204.80 H59.50 M55.90,208.10 H59.50" stroke="#e6a84a" stroke-width="1.0" fill="none"/>
<path d="M57.70,204.37 L59.46,206.45 L57.70,208.53 L55.94,206.45 Z" fill="#e6a84a"/>
<path d="M140.78,221.55 V226.50 M138.98,221.55 H142.58 M138.98,226.50 H142.58" stroke="#e6a84a" stroke-width="1.0" fill="none"/>
<path d="M140.78,221.94 L142.54,224.02 L140.78,226.10 L139.02,224.02 Z" fill="#e6a84a"/>
<path d="M174.96,233.18 V236.48 M173.16,233.18 H176.76 M173.16,236.48 H176.76" stroke="#e6a84a" stroke-width="1.0" fill="none"/>
<path d="M174.96,232.75 L176.72,234.83 L174.96,236.91 L173.20,234.83 Z" fill="#e6a84a"/>
<path d="M189.68,217.18 V223.78 M187.88,217.18 H191.48 M187.88,223.78 H191.48" stroke="#e6a84a" stroke-width="1.0" fill="none"/>
<path d="M189.68,218.40 L191.44,220.48 L189.68,222.56 L187.92,220.48 Z" fill="#e6a84a"/>
<path d="M57.70,194.90 V198.20 M55.90,194.90 H59.50 M55.90,198.20 H59.50" stroke="#c8175e" stroke-width="1.0" fill="none"/>
<circle cx="57.70" cy="196.55" r="1.60" fill="#c8175e"/>
<path d="M57.70,203.15 V206.45 M55.90,203.15 H59.50 M55.90,206.45 H59.50" stroke="#c8175e" stroke-width="1.0" fill="none"/>
<circle cx="57.70" cy="204.80" r="1.60" fill="#c8175e"/>
<path d="M106.60,208.93 V213.88 M104.80,208.93 H108.40 M104.80,213.88 H108.40" stroke="#c8175e" stroke-width="1.0" fill="none"/>
<circle cx="106.60" cy="211.40" r="1.60" fill="#c8175e"/>
<path d="M155.50,232.03 V236.97 M153.70,232.03 H157.30 M153.70,236.97 H157.30" stroke="#c8175e" stroke-width="1.0" fill="none"/>
<circle cx="155.50" cy="234.50" r="1.60" fill="#c8175e"/>
<path d="M174.96,256.36 V259.66 M173.16,256.36 H176.76 M173.16,259.66 H176.76" stroke="#c8175e" stroke-width="1.0" fill="none"/>
<circle cx="174.96" cy="258.01" r="1.60" fill="#c8175e"/>
<path d="M189.68,269.15 V270.80 M187.88,269.15 H191.48 M187.88,270.80 H191.48" stroke="#c8175e" stroke-width="1.0" fill="none"/>
<circle cx="189.68" cy="269.98" r="1.60" fill="#c8175e"/>
<path d="M57.70,208.10 V213.05 M55.90,208.10 H59.50 M55.90,213.05 H59.50" stroke="#3f3670" stroke-width="1.0" fill="none"/>
<path d="M57.70,212.50 L59.46,209.30 L55.94,209.30 Z" fill="#3f3670"/>
<path d="M106.60,200.68 V207.28 M104.80,200.68 H108.40 M104.80,207.28 H108.40" stroke="#3f3670" stroke-width="1.0" fill="none"/>
<path d="M106.60,205.90 L108.36,202.70 L104.84,202.70 Z" fill="#3f3670"/>
<path d="M155.50,210.16 V215.11 M153.70,210.16 H157.30 M153.70,215.11 H157.30" stroke="#3f3670" stroke-width="1.0" fill="none"/>
<path d="M155.50,214.56 L157.26,211.36 L153.74,211.36 Z" fill="#3f3670"/>
<path d="M174.96,205.63 V207.28 M173.16,205.63 H176.76 M173.16,207.28 H176.76" stroke="#3f3670" stroke-width="1.0" fill="none"/>
<path d="M174.96,208.37 L176.72,205.17 L173.20,205.17 Z" fill="#3f3670"/>
<path d="M189.68,202.32 V208.93 M187.88,202.32 H191.48 M187.88,208.93 H191.48" stroke="#3f3670" stroke-width="1.0" fill="none"/>
<path d="M189.68,207.54 L191.44,204.34 L187.92,204.34 Z" fill="#3f3670"/>
<circle cx="48.90" cy="331.10" r="1.50" fill="#2a2f6a"/>
<text x="54.00" y="334.00" font-size="8.60" text-anchor="start" font-weight="normal" fill="#222" textLength="58.0" lengthAdjust="spacingAndGlyphs" >VKORC1L1 WT</text>
<rect x="47.40" y="342.00" width="3.00" height="3.00" fill="#8e1838"/>
<text x="54.00" y="346.40" font-size="8.60" text-anchor="start" font-weight="normal" fill="#222" textLength="35.6" lengthAdjust="spacingAndGlyphs" >Arg38Glu</text>
<path d="M48.90,354.00 L50.55,357.00 L47.25,357.00 Z" fill="#8f9c6c"/>
<text x="54.00" y="358.70" font-size="8.60" text-anchor="start" font-weight="normal" fill="#222" textLength="35.6" lengthAdjust="spacingAndGlyphs" >Arg42Glu</text>
<path d="M130.70,328.75 L132.35,330.70 L130.70,332.65 L129.05,330.70 Z" fill="#c8a060"/>
<text x="136.30" y="333.60" font-size="8.60" text-anchor="start" font-weight="normal" fill="#222" textLength="35.5" lengthAdjust="spacingAndGlyphs" >Arg68Glu</text>
<circle cx="130.70" cy="343.40" r="1.50" fill="#b01878"/>
<text x="136.30" y="346.30" font-size="8.60" text-anchor="start" font-weight="normal" fill="#222" textLength="76.3" lengthAdjust="spacingAndGlyphs" >Arg38Glu+Arg42Glu</text>
<path d="M130.70,357.70 L132.35,354.70 L129.05,354.70 Z" fill="#2a2a40"/>
<text x="136.30" y="358.80" font-size="8.60" text-anchor="start" font-weight="normal" fill="#222" textLength="81.1" lengthAdjust="spacingAndGlyphs" >Arg38Glu+Arg42Glu+</text>
<text x="136.30" y="368.40" font-size="8.60" text-anchor="start" font-weight="normal" fill="#222" textLength="35.5" lengthAdjust="spacingAndGlyphs" >Arg68Glu</text>
<text x="350.20" y="64.80" font-size="8.60" text-anchor="end" font-weight="normal" fill="#1a1a1a" textLength="25.5" lengthAdjust="spacingAndGlyphs" stroke="#1a1a1a" stroke-width="0.18">35 kDa</text>
<text x="350.20" y="76.70" font-size="8.60" text-anchor="end" font-weight="normal" fill="#1a1a1a" textLength="25.5" lengthAdjust="spacingAndGlyphs" stroke="#1a1a1a" stroke-width="0.18">25 kDa</text>
<text x="350.20" y="83.80" font-size="8.60" text-anchor="end" font-weight="normal" fill="#1a1a1a" textLength="25.5" lengthAdjust="spacingAndGlyphs" stroke="#1a1a1a" stroke-width="0.18">20 kDa</text>
<text x="350.20" y="126.60" font-size="8.60" text-anchor="end" font-weight="normal" fill="#1a1a1a" textLength="25.5" lengthAdjust="spacingAndGlyphs" stroke="#1a1a1a" stroke-width="0.18">70 kDa</text>
<text x="350.20" y="137.10" font-size="8.60" text-anchor="end" font-weight="normal" fill="#1a1a1a" textLength="25.5" lengthAdjust="spacingAndGlyphs" stroke="#1a1a1a" stroke-width="0.18">50 kDa</text>
<text x="350.20" y="145.40" font-size="8.60" text-anchor="end" font-weight="normal" fill="#1a1a1a" textLength="25.5" lengthAdjust="spacingAndGlyphs" stroke="#1a1a1a" stroke-width="0.18">37 kDa</text>
<text x="266.80" y="244.80" font-size="8.60" text-anchor="end" font-weight="normal" fill="#1a1a1a" textLength="25.3" lengthAdjust="spacingAndGlyphs" stroke="#1a1a1a" stroke-width="0.18">37 kDa</text>
<text x="266.80" y="260.60" font-size="8.60" text-anchor="end" font-weight="normal" fill="#1a1a1a" textLength="25.3" lengthAdjust="spacingAndGlyphs" stroke="#1a1a1a" stroke-width="0.18">25 kDa</text>
<text x="266.80" y="271.70" font-size="8.60" text-anchor="end" font-weight="normal" fill="#1a1a1a" textLength="25.3" lengthAdjust="spacingAndGlyphs" stroke="#1a1a1a" stroke-width="0.18">20 kDa</text>
<text x="266.80" y="314.20" font-size="8.60" text-anchor="end" font-weight="normal" fill="#1a1a1a" textLength="25.3" lengthAdjust="spacingAndGlyphs" stroke="#1a1a1a" stroke-width="0.18">70 kDa</text>
<text x="266.80" y="328.20" font-size="8.60" text-anchor="end" font-weight="normal" fill="#1a1a1a" textLength="25.3" lengthAdjust="spacingAndGlyphs" stroke="#1a1a1a" stroke-width="0.18">50 kDa</text>
<text x="266.80" y="338.50" font-size="8.60" text-anchor="end" font-weight="normal" fill="#1a1a1a" textLength="25.3" lengthAdjust="spacingAndGlyphs" stroke="#1a1a1a" stroke-width="0.18">37 kDa</text>
<defs>
<linearGradient id="gCu" x1="0" y1="0" x2="0" y2="1">
 <stop offset="0" stop-color="#b0b0b0"/><stop offset="0.04" stop-color="#c6c6c6"/><stop offset="0.4" stop-color="#c6c6c6"/><stop offset="1" stop-color="#b9b9b9"/>
</linearGradient>
<linearGradient id="gCl" x1="0" y1="0" x2="0" y2="1">
 <stop offset="0" stop-color="#c2c2c2"/><stop offset="0.5" stop-color="#c9c9c9"/><stop offset="1" stop-color="#c4c4c4"/>
</linearGradient>
<linearGradient id="gDu" x1="0" y1="0" x2="0" y2="1">
 <stop offset="0" stop-color="#d2d2d2"/><stop offset="0.06" stop-color="#e0e0e0"/><stop offset="0.6" stop-color="#e2e2e2"/><stop offset="1" stop-color="#dcdcdc"/>
</linearGradient>
<linearGradient id="gDl" x1="0" y1="0" x2="0" y2="1">
 <stop offset="0" stop-color="#d2d2d2"/><stop offset="0.3" stop-color="#dedede"/><stop offset="1" stop-color="#d0d0d0"/>
</linearGradient>
<clipPath id="cCu"><rect x="352" y="52.8" width="112" height="55.9"/></clipPath>
<clipPath id="cCl"><rect x="352" y="111.8" width="112" height="39.7"/></clipPath>
<clipPath id="cDu"><rect x="268.9" y="237" width="181.6" height="52.4"/></clipPath>
<clipPath id="cDl"><rect x="268.9" y="292" width="181.6" height="53.8"/></clipPath>
</defs>
<g clip-path="url(#cCu)">
<rect x="352" y="52.8" width="112" height="55.9" fill="url(#gCu)"/>
<rect x="350.00" y="50.00" width="19.00" height="62.00" fill="#b8b8b8" opacity="0.60" filter="url(#b3)"/>
<rect x="352" y="52.8" width="112" height="1.3" fill="#9a9a9a" opacity="0.8"/>
<rect x="375.00" y="58.00" width="17.00" height="17.00" fill="#b3b3b3" opacity="0.55" filter="url(#b3)"/>
<rect x="376.00" y="80.00" width="15.00" height="30.00" fill="#b5b5b5" opacity="0.50" filter="url(#b3)"/>
<rect x="396.00" y="58.00" width="18.00" height="17.00" fill="#b3b3b3" opacity="0.55" filter="url(#b3)"/>
<rect x="397.00" y="80.00" width="16.00" height="30.00" fill="#b5b5b5" opacity="0.50" filter="url(#b3)"/>
<rect x="418.00" y="58.00" width="19.00" height="17.00" fill="#b3b3b3" opacity="0.55" filter="url(#b3)"/>
<rect x="419.00" y="80.00" width="17.00" height="30.00" fill="#b5b5b5" opacity="0.50" filter="url(#b3)"/>
<rect x="442.00" y="58.00" width="18.00" height="17.00" fill="#b3b3b3" opacity="0.55" filter="url(#b3)"/>
<rect x="443.00" y="80.00" width="16.00" height="30.00" fill="#b5b5b5" opacity="0.50" filter="url(#b3)"/>
<rect x="461.00" y="50.00" width="5.00" height="62.00" fill="#a8a8a8" opacity="0.70" filter="url(#b1)"/>
<path d="M358,86 L404,110" stroke="#a8a8a8" stroke-width="0.7" opacity="0.35"/>
<rect x="352.00" y="55.65" width="14.20" height="1.70" rx="0.7" fill="#151515" opacity="0.95" filter="url(#b05)"/>
<rect x="352.00" y="62.25" width="14.20" height="1.70" rx="0.7" fill="#151515" opacity="0.95" filter="url(#b05)"/>
<rect x="352.00" y="73.15" width="14.20" height="1.70" rx="0.7" fill="#151515" opacity="0.95" filter="url(#b05)"/>
<rect x="352.00" y="80.15" width="14.20" height="1.70" rx="0.7" fill="#151515" opacity="0.95" filter="url(#b05)"/>
<rect x="352.00" y="87.95" width="14.20" height="1.70" rx="0.7" fill="#151515" opacity="0.95" filter="url(#b05)"/>
<rect x="354.00" y="100.45" width="9.50" height="1.70" rx="0.7" fill="#151515" opacity="0.95" filter="url(#b05)"/>
<circle cx="368" cy="74" r="0.7" fill="#222"/>
<rect x="373.70" y="75.80" width="19.00" height="10.00" rx="3.50" fill="#555" opacity="0.30" filter="url(#b2)"/>
<rect x="375.20" y="77.80" width="16.00" height="6.00" rx="2.50" fill="#111" opacity="1.00" filter="url(#b1)"/>
<path d="M388.5,82 L393,82 L393.5,88 Q391,90 389,88 Z" fill="#444" opacity="0.8" filter="url(#b1)"/>
<rect x="393.80" y="71.40" width="21.90" height="13.40" rx="4.20" fill="#555" opacity="0.30" filter="url(#b2)"/>
<rect x="395.30" y="73.40" width="18.90" height="9.40" rx="3.20" fill="#111" opacity="1.00" filter="url(#b1)"/>
<rect x="416.70" y="73.70" width="21.30" height="11.80" rx="4.20" fill="#555" opacity="0.30" filter="url(#b2)"/>
<rect x="418.20" y="75.70" width="18.30" height="7.80" rx="3.20" fill="#111" opacity="1.00" filter="url(#b1)"/>
<rect x="441.70" y="73.70" width="18.60" height="10.60" rx="4.00" fill="#555" opacity="0.30" filter="url(#b2)"/>
<rect x="443.20" y="75.70" width="15.60" height="6.60" rx="3.00" fill="#111" opacity="1.00" filter="url(#b1)"/>
<rect x="448.00" y="82.00" width="10.00" height="14.00" fill="#888" opacity="0.35" filter="url(#b2)"/>
</g>
<g clip-path="url(#cCl)">
<rect x="352" y="111.8" width="112" height="39.7" fill="url(#gCl)"/>
<rect x="352.00" y="111.00" width="20.00" height="41.00" fill="#d2d2d2" opacity="0.60" filter="url(#b2)"/>
<rect x="461.00" y="110.00" width="5.00" height="43.00" fill="#aaaaaa" opacity="0.60" filter="url(#b1)"/>
<rect x="359.00" y="115.00" width="8.00" height="1.80" rx="0.7" fill="#151515" opacity="0.95" filter="url(#b05)"/>
<rect x="357.00" y="118.65" width="9.00" height="1.90" rx="0.7" fill="#151515" opacity="0.95" filter="url(#b05)"/>
<rect x="355.00" y="121.55" width="11.00" height="1.90" rx="0.7" fill="#151515" opacity="0.95" filter="url(#b05)"/>
<rect x="353.00" y="124.05" width="11.50" height="1.90" rx="0.7" fill="#151515" opacity="0.95" filter="url(#b05)"/>
<rect x="356.00" y="134.30" width="10.00" height="1.80" rx="0.7" fill="#151515" opacity="0.95" filter="url(#b05)"/>
<rect x="354.00" y="141.50" width="13.00" height="2.00" rx="0.7" fill="#151515" opacity="0.95" filter="url(#b05)"/>
<circle cx="367" cy="125.6" r="0.7" fill="#222"/>
<rect x="379.70" y="135.00" width="13.40" height="7.00" fill="#8a8a8a" opacity="0.20" filter="url(#b2)"/>
<path d="M378.20,132.00 L379.80,132.00 C380.10,131.10 380.70,131.60 381.20,131.60 L391.60,131.60 C392.10,131.60 392.70,131.10 393.00,129.40 L394.60,129.40 L394.60,134.80 C394.10,136.00 392.60,136.00 392.10,136.00 L380.70,136.00 C380.20,136.00 378.50,136.00 378.20,134.80 Z" fill="#111" opacity="1.00" filter="url(#b1)"/>
<rect x="397.30" y="136.00" width="18.20" height="7.00" fill="#8a8a8a" opacity="0.20" filter="url(#b2)"/>
<path d="M395.80,129.40 L397.40,129.40 C397.70,130.70 398.30,131.20 398.80,131.20 L414.00,131.20 C414.50,131.20 415.10,130.70 415.40,129.00 L417.00,129.00 L417.00,135.80 C416.50,137.00 415.00,137.00 414.50,137.00 L398.30,137.00 C397.80,137.00 396.10,137.00 395.80,135.80 Z" fill="#111" opacity="1.00" filter="url(#b1)"/>
<rect x="421.70" y="136.20" width="17.20" height="7.00" fill="#8a8a8a" opacity="0.20" filter="url(#b2)"/>
<path d="M420.20,129.60 L421.80,129.60 C422.10,130.90 422.70,131.40 423.20,131.40 L437.40,131.40 C437.90,131.40 438.50,130.90 438.80,129.20 L440.40,129.20 L440.40,136.00 C439.90,137.20 438.40,137.20 437.90,137.20 L422.70,137.20 C422.20,137.20 420.50,137.20 420.20,136.00 Z" fill="#111" opacity="1.00" filter="url(#b1)"/>
<rect x="445.30" y="136.00" width="17.70" height="7.00" fill="#8a8a8a" opacity="0.20" filter="url(#b2)"/>
<path d="M443.80,129.60 L445.40,129.60 C445.70,130.70 446.30,131.20 446.80,131.20 L461.50,131.20 C462.00,131.20 462.60,130.70 462.90,129.00 L464.50,129.00 L464.50,135.80 C464.00,137.00 462.50,137.00 462.00,137.00 L446.30,137.00 C445.80,137.00 444.10,137.00 443.80,135.80 Z" fill="#111" opacity="1.00" filter="url(#b1)"/>
</g>
<text x="465.30" y="81.00" font-size="8.3" fill="#1a1a1a" stroke="#1a1a1a" stroke-width="0.18" textLength="30.0" lengthAdjust="spacingAndGlyphs"><tspan font-family="Liberation Serif" font-size="9">&#945;</tspan>-c-Myc</text>
<text x="465.30" y="134.80" font-size="8.3" fill="#1a1a1a" stroke="#1a1a1a" stroke-width="0.18" textLength="46.5" lengthAdjust="spacingAndGlyphs"><tspan font-family="Liberation Serif" font-size="9">&#945;</tspan>-ERGIC-53</text>
<text transform="translate(380.50,51.0) rotate(-90)" font-size="8.2" fill="#222">VKORC1</text>
<text transform="translate(389.80,51.0) rotate(-90)" font-size="8.2" fill="#222">WT</text>
<text transform="translate(402.90,51.0) rotate(-90)" font-size="8.2" fill="#222">VKORC1L1</text>
<text transform="translate(412.20,51.0) rotate(-90)" font-size="8.2" fill="#222">WT</text>
<text transform="translate(426.30,51.0) rotate(-90)" font-size="8.2" fill="#222">VKORC1</text>
<text transform="translate(435.20,51.0) rotate(-90)" font-size="8.2" fill="#222">loop swap</text>
<text transform="translate(450.00,51.0) rotate(-90)" font-size="8.2" fill="#222">VKORC1L1</text>
<text transform="translate(458.90,51.0) rotate(-90)" font-size="8.2" fill="#222">loop swap</text>
<g clip-path="url(#cDu)">
<rect x="268.7" y="237" width="182.7" height="52.6" fill="url(#gDu)"/>
<rect x="266.00" y="235.00" width="21.00" height="57.00" fill="#c9c9c9" opacity="0.60" filter="url(#b3)"/>
<rect x="288.00" y="240.00" width="40.00" height="16.00" fill="#e8e8e8" opacity="0.60" filter="url(#b3)"/>
<rect x="269.00" y="242.85" width="11.00" height="1.90" rx="0.7" fill="#151515" opacity="0.95" filter="url(#b05)"/>
<rect x="269.00" y="256.35" width="12.00" height="1.90" rx="0.7" fill="#151515" opacity="0.95" filter="url(#b05)"/>
<rect x="269.00" y="267.60" width="13.00" height="2.00" rx="0.7" fill="#151515" opacity="0.95" filter="url(#b05)"/>
<rect x="270.00" y="274.65" width="10.00" height="1.90" rx="0.7" fill="#151515" opacity="0.95" filter="url(#b05)"/>
<circle cx="283.2" cy="257.6" r="0.6" fill="#333"/>
<rect x="290.50" y="267.00" width="16.80" height="3.20" rx="1.60" fill="#9a9a9a" opacity="0.70" filter="url(#b2)"/>
<path d="M311.6,262.5 C311.6,260.5 312.5,259.6 314,259.4 L322,258.6 L329.8,257.9 L329.8,265.0 L314,265.2 C312.3,265.2 311.6,264.3 311.6,262.5 Z" fill="#080808" filter="url(#b07)"/>
<path d="M333.4,261 C333.4,258 334.5,256.8 337,256.4 L346,255.6 C350,255.4 354,255.8 356.4,257.5 L356.6,264.8 C352,265.8 345,264.6 338,264.4 C335,264.3 333.4,263.5 333.4,261 Z" fill="#080808" filter="url(#b07)"/>
<rect x="352.00" y="259.00" width="8.00" height="7.00" fill="#111" opacity="0.90" filter="url(#b1)"/>
<path d="M356,262 C360,260 362,255.5 366,255 C370,254.5 374,257 378,258 C381,258.5 384,256 388,256 C393,256.5 397,258 399.5,259 L399.5,264.8 C396,265.8 392,266.2 388,265.8 C384,265.3 381,266.3 378,265.8 C374,265.3 368,265.8 364,265.3 C360,265 358,265.2 356,265.2 Z" fill="#080808" filter="url(#b07)"/>
<path d="M401.8,259.5 C401.8,256.5 403,255 406,254.8 L418,254.8 C421,255 422.3,256.5 422.3,259 L422.3,263.4 L406,263.8 C403,263.8 401.8,262 401.8,259.5 Z" fill="#080808" filter="url(#b07)"/>
<path d="M424,262 C424,257 425,254.5 427,254.5 C430,255 432,256.5 434,256.5 C438,256.5 441,256 444,255.5 C446,255 447,253.5 448,253.6 C449,254 448.8,258 447,259.5 C444,261 440,261 436,261 C432,261 428,262.5 424,262 Z" fill="#151515" filter="url(#b1)"/>
<rect x="296.00" y="270.00" width="12.00" height="22.00" fill="#c8c8c8" opacity="0.60" filter="url(#b3)"/>
<rect x="313.00" y="264.00" width="16.00" height="28.00" fill="#c4c4c4" opacity="0.55" filter="url(#b3)"/>
<rect x="335.00" y="264.00" width="20.00" height="28.00" fill="#c4c4c4" opacity="0.55" filter="url(#b3)"/>
<rect x="359.00" y="264.00" width="19.00" height="28.00" fill="#c4c4c4" opacity="0.55" filter="url(#b3)"/>
<rect x="381.00" y="264.00" width="18.00" height="28.00" fill="#c4c4c4" opacity="0.55" filter="url(#b3)"/>
<rect x="404.00" y="264.00" width="17.00" height="28.00" fill="#c4c4c4" opacity="0.55" filter="url(#b3)"/>
<rect x="426.00" y="264.00" width="21.00" height="28.00" fill="#c4c4c4" opacity="0.55" filter="url(#b3)"/>
</g>
<g clip-path="url(#cDl)">
<rect x="268.7" y="292" width="182.7" height="54" fill="url(#gDl)"/>
<rect x="266.00" y="290.00" width="19.00" height="58.00" fill="#c8c8c8" opacity="0.60" filter="url(#b3)"/>
<rect x="290.00" y="294.00" width="40.00" height="20.00" fill="#ececec" opacity="0.70" filter="url(#b3)"/>
<rect x="289.00" y="324.00" width="16.00" height="26.00" fill="#b4b4b4" opacity="0.70" filter="url(#b3)"/>
<rect x="311.00" y="324.00" width="16.00" height="26.00" fill="#b4b4b4" opacity="0.70" filter="url(#b3)"/>
<rect x="336.00" y="324.00" width="16.00" height="26.00" fill="#b4b4b4" opacity="0.70" filter="url(#b3)"/>
<rect x="359.00" y="324.00" width="16.00" height="26.00" fill="#b4b4b4" opacity="0.70" filter="url(#b3)"/>
<rect x="382.00" y="324.00" width="16.00" height="26.00" fill="#b4b4b4" opacity="0.70" filter="url(#b3)"/>
<rect x="405.00" y="324.00" width="16.00" height="26.00" fill="#b4b4b4" opacity="0.70" filter="url(#b3)"/>
<rect x="429.00" y="324.00" width="16.00" height="26.00" fill="#b4b4b4" opacity="0.70" filter="url(#b3)"/>
<rect x="269.00" y="299.05" width="13.00" height="1.50" rx="0.7" fill="#2a2a2a" opacity="0.95" filter="url(#b05)"/>
<rect x="269.00" y="302.10" width="13.00" height="1.40" rx="0.7" fill="#2a2a2a" opacity="0.95" filter="url(#b05)"/>
<rect x="269.00" y="306.05" width="14.00" height="1.50" rx="0.7" fill="#2a2a2a" opacity="0.95" filter="url(#b05)"/>
<rect x="269.00" y="310.00" width="13.00" height="1.60" rx="0.7" fill="#2a2a2a" opacity="0.95" filter="url(#b05)"/>
<rect x="279.40" y="318.90" width="4.90" height="2.00" rx="0.7" fill="#2a2a2a" opacity="0.95" filter="url(#b05)"/>
<rect x="269.00" y="323.55" width="13.00" height="1.50" rx="0.7" fill="#2a2a2a" opacity="0.95" filter="url(#b05)"/>
<rect x="269.00" y="333.60" width="14.50" height="1.60" rx="0.7" fill="#2a2a2a" opacity="0.95" filter="url(#b05)"/>
<circle cx="286" cy="312" r="0.7" fill="#333"/>
<rect x="289.30" y="324.80" width="16.20" height="10.00" fill="#8a8a8a" opacity="0.55" filter="url(#b2)"/>
<path d="M287.80,317.80 L289.40,317.80 C289.70,320.10 290.30,320.60 290.80,320.60 L304.00,320.60 C304.50,320.60 305.10,320.10 305.40,319.60 L307.00,319.60 L307.00,324.60 C306.50,325.80 305.00,325.80 304.50,325.80 L290.30,325.80 C289.80,325.80 288.10,325.80 287.80,324.60 Z" fill="#111" opacity="1.00" filter="url(#b1)"/>
<rect x="311.50" y="324.80" width="16.60" height="10.00" fill="#8a8a8a" opacity="0.55" filter="url(#b2)"/>
<path d="M310.00,318.20 L311.60,318.20 C311.90,320.10 312.50,320.60 313.00,320.60 L327.40,320.60 C327.90,320.60 327.70,320.10 328.00,315.80 L329.60,315.80 L329.60,324.60 C329.10,325.80 327.60,325.80 327.10,325.80 L312.50,325.80 C312.00,325.80 310.30,325.80 310.00,324.60 Z" fill="#111" opacity="1.00" filter="url(#b1)"/>
<rect x="335.00" y="323.80" width="17.90" height="10.00" fill="#8a8a8a" opacity="0.55" filter="url(#b2)"/>
<path d="M333.50,316.20 L335.10,316.20 C335.40,318.10 336.00,318.60 336.50,318.60 L351.40,318.60 C351.90,318.60 352.50,318.10 352.80,314.80 L354.40,314.80 L354.40,323.60 C353.90,324.80 352.40,324.80 351.90,324.80 L336.00,324.80 C335.50,324.80 333.80,324.80 333.50,323.60 Z" fill="#111" opacity="1.00" filter="url(#b1)"/>
<rect x="359.10" y="323.80" width="18.00" height="10.00" fill="#8a8a8a" opacity="0.55" filter="url(#b2)"/>
<path d="M357.60,318.20 L359.20,318.20 C359.50,318.10 360.10,318.60 360.60,318.60 L375.60,318.60 C376.10,318.60 376.70,318.10 377.00,313.70 L378.60,313.70 L378.60,323.60 C378.10,324.80 376.60,324.80 376.10,324.80 L360.10,324.80 C359.60,324.80 357.90,324.80 357.60,323.60 Z" fill="#111" opacity="1.00" filter="url(#b1)"/>
<rect x="382.10" y="322.00" width="16.00" height="10.00" fill="#8a8a8a" opacity="0.55" filter="url(#b2)"/>
<path d="M380.60,316.70 L382.20,316.70 C382.50,316.30 383.10,316.80 383.60,316.80 L396.60,316.80 C397.10,316.80 397.70,316.30 398.00,314.30 L399.60,314.30 L399.60,321.80 C399.10,323.00 397.60,323.00 397.10,323.00 L383.10,323.00 C382.60,323.00 380.90,323.00 380.60,321.80 Z" fill="#111" opacity="1.00" filter="url(#b1)"/>
<rect x="405.10" y="321.60" width="16.80" height="10.00" fill="#8a8a8a" opacity="0.55" filter="url(#b2)"/>
<path d="M403.60,315.70 L405.20,315.70 C405.50,315.50 406.10,316.00 406.60,316.00 L420.40,316.00 C420.90,316.00 421.50,315.50 421.80,312.50 L423.40,312.50 L423.40,321.40 C422.90,322.60 421.40,322.60 420.90,322.60 L406.10,322.60 C405.60,322.60 403.90,322.60 403.60,321.40 Z" fill="#111" opacity="1.00" filter="url(#b1)"/>
<rect x="427.90" y="319.80" width="19.20" height="10.00" fill="#8a8a8a" opacity="0.45" filter="url(#b2)"/>
<path d="M426.40,314.70 L428.60,314.70 C428.90,314.20 428.90,314.70 429.40,314.70 L441.60,314.70 C442.10,314.70 446.10,314.20 446.40,307.20 L448.60,307.20 L448.60,319.60 C448.10,320.80 446.60,320.80 446.10,320.80 L428.90,320.80 C428.40,320.80 426.70,320.80 426.40,319.60 Z" fill="#111" opacity="1.00" filter="url(#b1)"/>
<rect x="337.00" y="342.10" width="16.60" height="3.00" rx="1.50" fill="#6a6a6a" opacity="0.75" filter="url(#b1)"/>
<rect x="362.00" y="342.10" width="14.70" height="3.00" rx="1.50" fill="#6a6a6a" opacity="0.70" filter="url(#b1)"/>
<rect x="381.00" y="342.10" width="16.00" height="3.00" rx="1.50" fill="#6a6a6a" opacity="0.50" filter="url(#b1)"/>
<rect x="407.50" y="342.10" width="12.10" height="3.00" rx="1.50" fill="#6a6a6a" opacity="0.65" filter="url(#b1)"/>
<rect x="431.00" y="342.10" width="12.00" height="3.00" rx="1.50" fill="#6a6a6a" opacity="0.30" filter="url(#b1)"/>
</g>
<rect x="330.2" y="237" width="1.5" height="52.6" fill="#6a6a6a"/>
<rect x="330.0" y="292" width="1.9" height="53.8" fill="#3a3a3a"/>
<text x="453.20" y="266.80" font-size="8.3" fill="#1a1a1a" stroke="#1a1a1a" stroke-width="0.18" textLength="28.9" lengthAdjust="spacingAndGlyphs"><tspan font-family="Liberation Serif" font-size="9">&#945;</tspan>-c-Myc</text>
<text x="452.80" y="315.30" font-size="8.3" fill="#1a1a1a" stroke="#1a1a1a" stroke-width="0.18" textLength="46.5" lengthAdjust="spacingAndGlyphs"><tspan font-family="Liberation Serif" font-size="9">&#945;</tspan>-ERGIC-53</text>
<text transform="translate(301.00,235.8) rotate(-90)" font-size="8.2" fill="#222">MOCK</text>
<text transform="translate(320.40,235.8) rotate(-90)" font-size="8.2" fill="#222">VKORC1L1</text>
<text transform="translate(330.70,235.8) rotate(-90)" font-size="8.2" fill="#222">WT</text>
<text transform="translate(343.10,235.8) rotate(-90)" font-size="8.2" fill="#222">VKORC1L1</text>
<text transform="translate(351.10,235.8) rotate(-90)" font-size="8.2" fill="#222">R38E</text>
<text transform="translate(365.40,235.8) rotate(-90)" font-size="8.2" fill="#222">VKORC1L1</text>
<text transform="translate(374.00,235.8) rotate(-90)" font-size="8.2" fill="#222">R42E</text>
<text transform="translate(386.30,235.8) rotate(-90)" font-size="8.2" fill="#222">VKORC1L1</text>
<text transform="translate(394.90,235.8) rotate(-90)" font-size="8.2" fill="#222">R68E</text>
<text transform="translate(409.90,235.8) rotate(-90)" font-size="8.2" fill="#222">VKORC1L1</text>
<text transform="translate(419.90,235.8) rotate(-90)" font-size="8.2" fill="#222">R38E + R42E</text>
<text transform="translate(434.80,235.8) rotate(-90)" font-size="8.2" fill="#222">VKORC1L1</text>
<text transform="translate(444.90,235.8) rotate(-90)" font-size="8.2" fill="#222">R38E+R42E+R68E</text>
<rect x="0.75" y="0.8" width="518.45" height="377.4" fill="none" stroke="#000" stroke-width="1.6"/>
</svg></body></html>
